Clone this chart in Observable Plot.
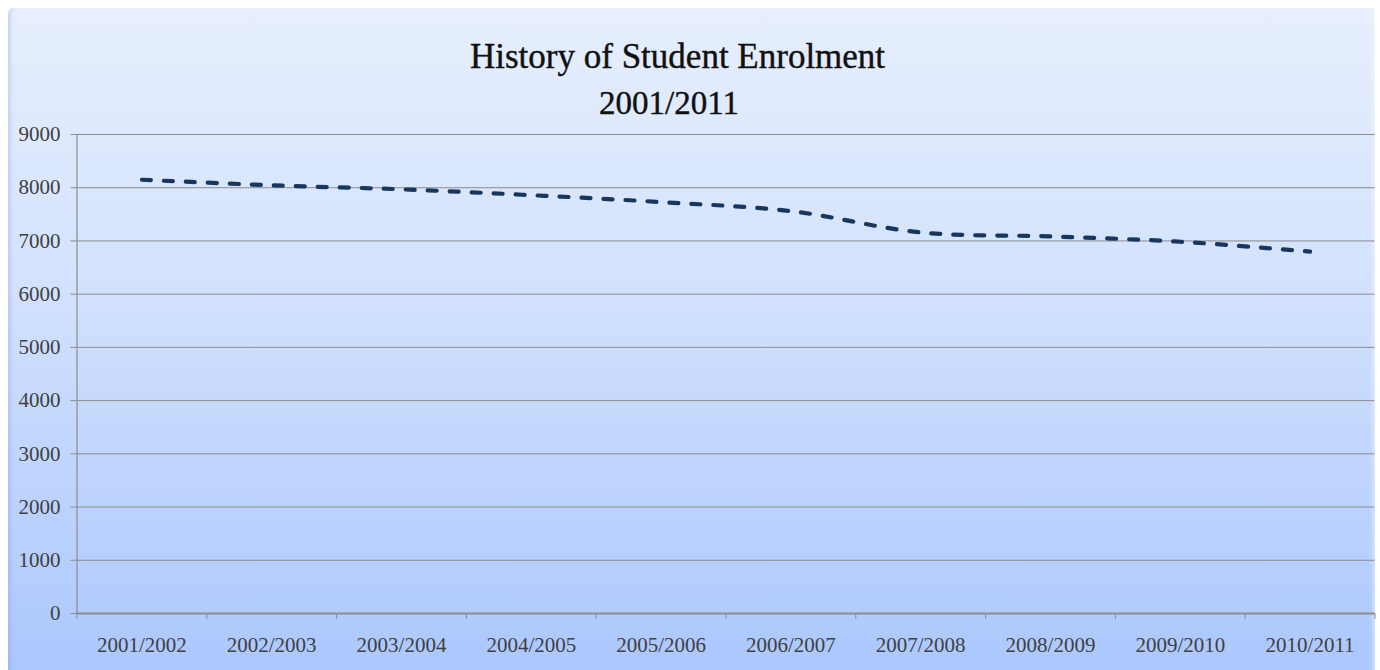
<!DOCTYPE html>
<html>
<head>
<meta charset="utf-8">
<script src="https://cdn.jsdelivr.net/npm/d3@7"></script>
<script src="https://cdn.jsdelivr.net/npm/@observablehq/plot@0.6"></script>
<style>
  html, body { margin: 0; padding: 0; background: #ffffff; width: 1380px; height: 670px; overflow: hidden; }
  #panel {
    position: absolute; left: 8px; top: 8px; width: 1367px; height: 680px;
    background: linear-gradient(to bottom, #e7effd 0%, #d3e2fd 40%, #a9c6fd 100%);
    border-top-left-radius: 6px;
    box-shadow: inset 5px 0 4px -3px rgba(120,150,220,0.35), inset -4px 0 4px -2px rgba(255,255,255,0.5);
  }
  .title {
    position: absolute; left: 470px; width: 400px;
    text-align: center; font-family: "Liberation Serif", serif;
    line-height: 1; color: #111111; white-space: nowrap;
    -webkit-text-stroke: 0.4px #111111;
  }
  #title1 { top: 38.7px; font-size: 35px; }
  #title2 { top: 87.4px; font-size: 33px; left: 469px; }
  #chart { position: absolute; left: 8px; top: 118px; }
  #chart svg { overflow: visible; }
</style>
</head>
<body>
<div id="panel"></div>
<div class="title" id="title1">History of Student Enrolment</div>
<div class="title" id="title2">2001/2011</div>
<div id="chart"></div>
<script>
const categories = ["2001/2002","2002/2003","2003/2004","2004/2005","2005/2006","2006/2007","2007/2008","2008/2009","2009/2010","2010/2011"];
const enrolment = [8150, 8045, 7970, 7860, 7730, 7560, 7160, 7085, 6985, 6800];
const yTicks = [0,1000,2000,3000,4000,5000,6000,7000,8000,9000];

const data = categories.map((c, i) => ({pos: i + 0.5, value: enrolment[i], label: c}));
const boundaries = d3.range(categories.length + 1);
const centers = categories.map((c, i) => i + 0.5);

const plot = Plot.plot({
  width: 1367,
  height: 552,
  marginLeft: 68.5,
  marginRight: 0.5,
  marginTop: 16,
  marginBottom: 57,
  style: {background: "transparent", fontFamily: "Liberation Serif, serif", fontSize: "21px", overflow: "visible"},
  x: {type: "linear", domain: [0, categories.length]},
  y: {domain: [0, 9000]},
  marks: [
    Plot.gridY(yTicks, {stroke: "#8c8c8c", strokeOpacity: 1, strokeWidth: 1}),
    Plot.ruleX([0], {y1: 0, y2: 9000, stroke: "#8c8c8c", strokeWidth: 1.2}),
    Plot.axisY(yTicks, {tickSize: 6, tickPadding: 10.5, stroke: "#8c8c8c", fill: "#404040", label: null, tickFormat: d => String(d)}),
    Plot.axisX(boundaries, {tickSize: 6, tickFormat: () => "", stroke: "#8c8c8c", label: null}),
    Plot.axisX(centers, {tickSize: 0, tickPadding: 24, fill: "#404040", label: null, tickFormat: d => categories[Math.floor(d)]}),
    Plot.ruleY([0], {stroke: "#8c8c8c", strokeWidth: 2}),
    Plot.line(data, {x: "pos", y: "value", stroke: "#17375e", strokeWidth: 4.2, strokeDasharray: "9,13", strokeLinecap: "round", curve: "catmull-rom"})
  ]
});
document.getElementById("chart").appendChild(plot);
</script>
</body>
</html>
